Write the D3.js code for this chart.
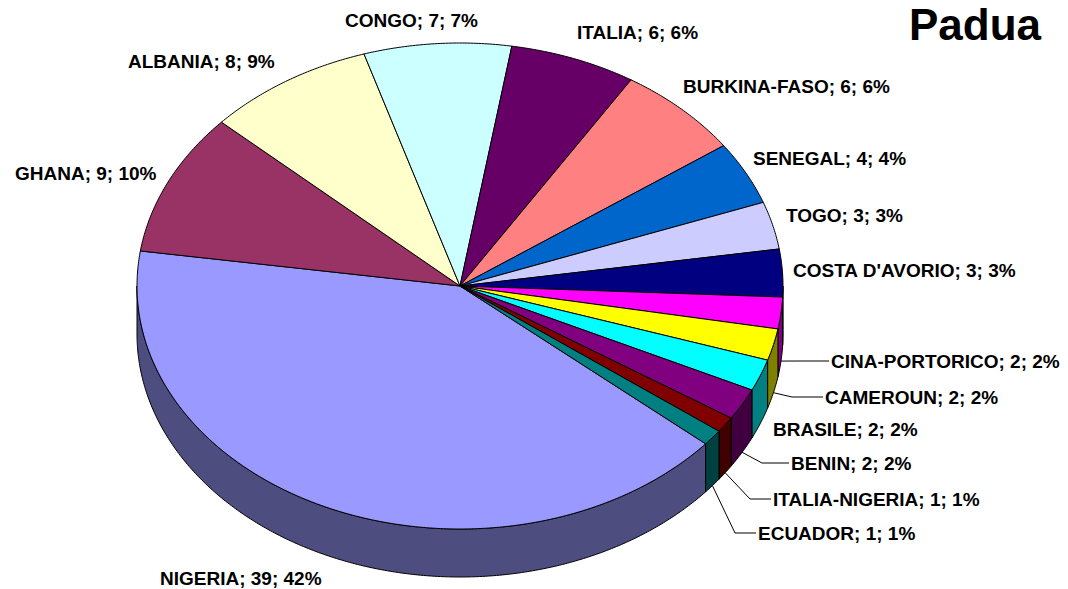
<!DOCTYPE html>
<html>
<head>
<meta charset="utf-8">
<script src="https://cdn.jsdelivr.net/npm/d3@7"></script>
<style>
  html, body { margin: 0; padding: 0; background: #ffffff; }
  svg { display: block; }
  text { font-family: "Liberation Sans", Arial, Helvetica, sans-serif; font-weight: bold; fill: #000; }
</style>
</head>
<body>
<svg id="chart" width="1068" height="589"></svg>
<script>
// Country of origin, number of people, rounded share
const categories = ["NIGERIA", "GHANA", "ALBANIA", "CONGO", "ITALIA", "BURKINA-FASO", "SENEGAL",
  "TOGO", "COSTA D'AVORIO", "CINA-PORTORICO", "CAMEROUN", "BRASILE", "BENIN", "ITALIA-NIGERIA", "ECUADOR"];
const counts = [39, 9, 8, 7, 6, 6, 4, 3, 3, 2, 2, 2, 2, 1, 1];
const shares = ["42%", "10%", "9%", "7%", "6%", "6%", "4%", "3%", "3%", "2%", "2%", "2%", "2%", "1%", "1%"];
const fills = ["#9999FF", "#993366", "#FFFFCC", "#CCFFFF", "#660066", "#FF8080", "#0066CC", "#CCCCFF",
  "#000080", "#FF00FF", "#FFFF00", "#00FFFF", "#800080", "#800000", "#008080"];
const title = "Padua";

// Label placement (left edge, vertical centre, optional leader elbow x)
const labelLayout = [
  { x: 160, y: 578 }, { x: 15, y: 173 }, { x: 128, y: 61 }, { x: 345, y: 20 },
  { x: 577, y: 32 }, { x: 683, y: 86 }, { x: 753, y: 158 }, { x: 786, y: 215 },
  { x: 793, y: 270 }, { x: 831, y: 361, elbow: 800 }, { x: 825, y: 397, elbow: 792 },
  { x: 773, y: 429 }, { x: 791, y: 463, elbow: 762 }, { x: 773, y: 499, elbow: 750 },
  { x: 758, y: 533, elbow: 735 }
];

// Projected pie geometry
const cx = 460, cy = 286, rx = 323, ry = 243, depth = 48;
const startDeg = 130.5;

const svg = d3.select("#chart");
const data = categories.map((c, i) => ({ name: c, count: counts[i], share: shares[i], fill: fills[i], layout: labelLayout[i] }));

const start = startDeg * Math.PI / 180;
const arcs = d3.pie().sort(null).value(d => d.count)
  .startAngle(start).endAngle(start + 2 * Math.PI)(data);

const px = a => cx + rx * Math.sin(a);
const py = a => cy - ry * Math.cos(a);
const line = d3.line();

function arcPoints(a0, a1, dy) {
  const n = Math.max(2, Math.ceil(Math.abs(a1 - a0) / (Math.PI / 360)));
  return d3.range(n + 1).map(k => {
    const a = a0 + (a1 - a0) * k / n;
    return [px(a), py(a) + dy];
  });
}

// Front-facing wall segments: angles where the rim faces the viewer
function wallSegments(a0, a1) {
  const segs = [];
  for (let k = 0; k < 3; k++) {
    const lo = Math.max(a0, Math.PI / 2 + 2 * Math.PI * k);
    const hi = Math.min(a1, 3 * Math.PI / 2 + 2 * Math.PI * k);
    if (hi > lo) segs.push([lo, hi]);
  }
  return segs;
}

const sideColor = c => { const r = d3.rgb(c); return d3.rgb(r.r * 0.5, r.g * 0.5, r.b * 0.5).formatHex(); };

// Side walls
const walls = svg.append("g");
arcs.forEach(a => {
  wallSegments(a.startAngle, a.endAngle).forEach(([lo, hi]) => {
    const pts = arcPoints(lo, hi, 0).concat(arcPoints(hi, lo, depth));
    walls.append("path")
      .attr("d", line(pts) + "Z")
      .attr("fill", sideColor(a.data.fill))
      .attr("stroke", "#000").attr("stroke-width", 1).attr("stroke-linejoin", "round");
  });
});

// Top faces
const tops = svg.append("g");
arcs.forEach(a => {
  const pts = [[cx, cy]].concat(arcPoints(a.startAngle, a.endAngle, 0));
  tops.append("path")
    .attr("d", line(pts) + "Z")
    .attr("fill", a.data.fill)
    .attr("stroke", "#000").attr("stroke-width", 1).attr("stroke-linejoin", "round");
});

// Leader lines from the foot of each slice's rim
const leaders = svg.append("g");
arcs.forEach(a => {
  const L = a.data.layout;
  if (L.elbow === undefined) return;
  const m = (a.startAngle + a.endAngle) / 2;
  const pts = [[px(m), py(m) + depth], [L.elbow, L.y], [L.x - 2, L.y]];
  leaders.append("path").attr("d", line(pts))
    .attr("fill", "none").attr("stroke", "#000").attr("stroke-width", 1);
});

// Data labels
svg.append("g").selectAll("text").data(arcs).join("text")
  .attr("x", a => a.data.layout.x)
  .attr("y", a => a.data.layout.y + 7)
  .attr("font-size", 19)
  .text(a => `${a.data.name}; ${a.data.count}; ${a.data.share}`);

svg.append("text")
  .attr("x", 909).attr("y", 40)
  .attr("font-size", 44)
  .text(title);
</script>
</body>
</html>
